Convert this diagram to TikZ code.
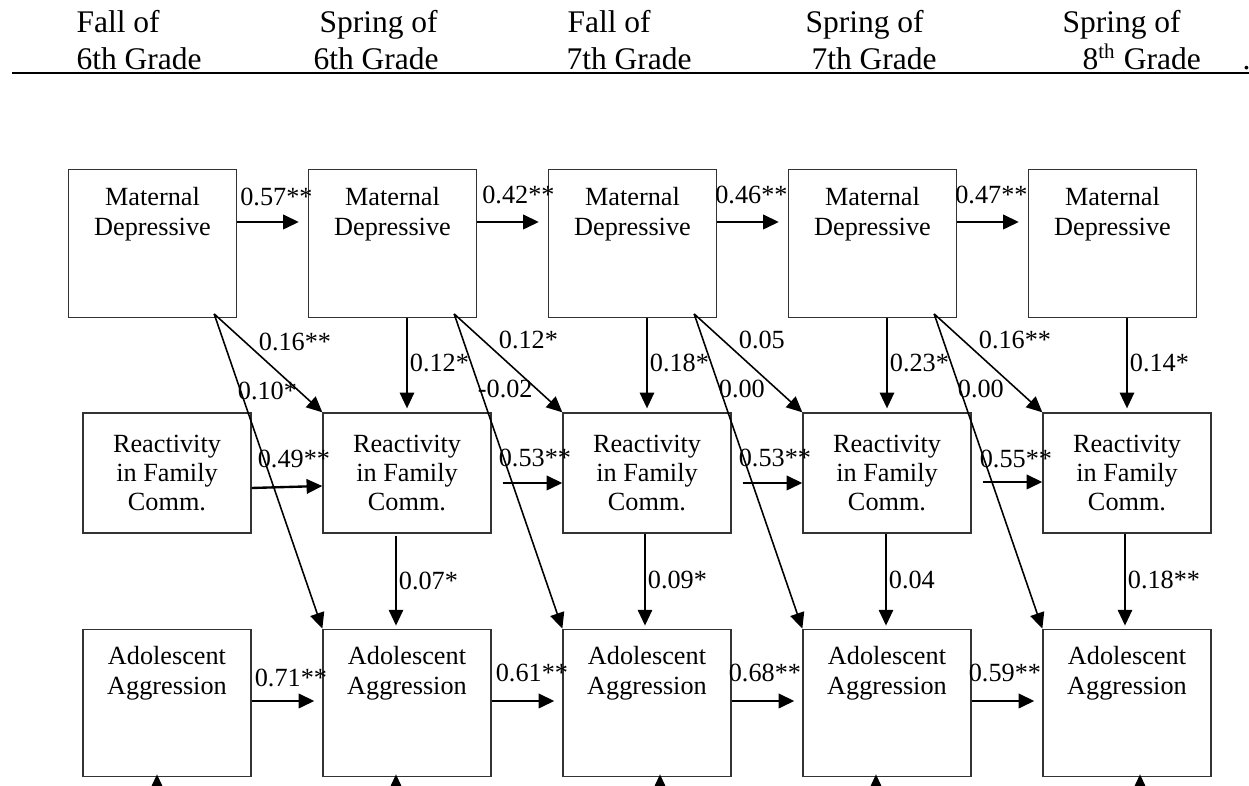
\documentclass[tikz,border=0pt]{standalone}
\usepackage{fontspec}
\setmainfont{Liberation Serif}
\usetikzlibrary{arrows.meta,calc}
\tikzset{
  tall/.style={draw=black!80,line width=0.5pt,minimum width=64pt,minimum height=56.2pt,inner sep=0pt,
    label={[toptext]north:#1}},
  toptext/.style={anchor=north,align=center,inner sep=0pt,yshift=-6.6pt,font=\fontsize{10}{11.4}\selectfont},
  mid/.style={draw=black!80,line width=0.5pt,minimum width=64pt,minimum height=45.7pt,inner sep=0pt,
    align=center,font=\fontsize{10}{11.2}\selectfont},
  coef/.style={anchor=west,inner sep=0pt,font=\fontsize{10}{12}\selectfont},
  effect/.style={line width=0.6pt,-{Triangle[length=6pt,width=5.5pt]}},
  hpath/.style={effect,line width=0.9pt},
  grade/.style={anchor=base west,inner sep=0pt,font=\fontsize{12}{14}\selectfont}
}
\begin{document}
\begin{tikzpicture}[x=0.381pt,y=-0.381pt]
\useasboundingbox (0,0) rectangle (1249,786);
\node[grade] (h1) at (76,33) {Fall of};
\node[grade] (h2) at (76,70) {6th Grade};
\node[grade] (h3) at (319,33) {Spring of};
\node[grade] (h4) at (313,70) {6th Grade};
\node[grade] (h5) at (567,33) {Fall of};
\node[grade] (h6) at (566,70) {7th Grade};
\node[grade] (h7) at (805,33) {Spring of};
\node[grade] (h8) at (811,70) {7th Grade};
\node[grade] (h9) at (1062,33) {Spring of};
\node[grade] (h10) at (1082,70) {8\textsuperscript{th} Grade};
\node[grade] (h11) at (1242,70) {.};
\draw[line width=0.8pt] (12,73) -- (1249,73);
\node[tall={Maternal\\Depressive}] (md1) at (152.5,243.5) {};
\node[tall={Maternal\\Depressive}] (md2) at (392.5,243.5) {};
\node[tall={Maternal\\Depressive}] (md3) at (632.5,243.5) {};
\node[tall={Maternal\\Depressive}] (md4) at (872.5,243.5) {};
\node[tall={Maternal\\Depressive}] (md5) at (1112.5,243.5) {};
\node[mid] (rf1) at (167,473) {Reactivity\\in Family\\Comm.};
\node[mid] (rf2) at (407,473) {Reactivity\\in Family\\Comm.};
\node[mid] (rf3) at (647,473) {Reactivity\\in Family\\Comm.};
\node[mid] (rf4) at (887,473) {Reactivity\\in Family\\Comm.};
\node[mid] (rf5) at (1127,473) {Reactivity\\in Family\\Comm.};
\node[tall={Adolescent\\Aggression}] (aa1) at (167,703) {};
\node[tall={Adolescent\\Aggression}] (aa2) at (407,703) {};
\node[tall={Adolescent\\Aggression}] (aa3) at (647,703) {};
\node[tall={Adolescent\\Aggression}] (aa4) at (887,703) {};
\node[tall={Adolescent\\Aggression}] (aa5) at (1127,703) {};
\draw[hpath] ($(md1.east)+(0,-21.5)$) -- ($(md2.west)+(-9,-21.5)$) node[coef,pos=0,shift={(2,-25.5)}] {0.57**};
\draw[hpath] ($(md2.east)+(0,-21.5)$) -- ($(md3.west)+(-9,-21.5)$) node[coef,pos=0,shift={(4,-27)}] {0.42**};
\draw[hpath] ($(md3.east)+(0,-21.5)$) -- ($(md4.west)+(-9,-21.5)$) node[coef,pos=0,shift={(-3,-27)}] {0.46**};
\draw[hpath] ($(md4.east)+(0,-21.5)$) -- ($(md5.west)+(-9,-21.5)$) node[coef,pos=0,shift={(-3,-27)}] {0.47**};
\draw[hpath] ($(rf1.east)+(0,15)$) -- ($(rf2.west)+(0,13)$) node[coef,pos=0,shift={(5,-29)}] {0.49**};
\draw[hpath] ($(rf2.east)+(11,10)$) -- ($(rf3.west)+(0,10)$) node[coef,pos=0,shift={(-5,-25)}] {0.53**};
\draw[hpath] ($(rf3.east)+(11,10)$) -- ($(rf4.west)+(0,10)$) node[coef,pos=0,shift={(-5,-25)}] {0.53**};
\draw[hpath] ($(rf4.east)+(11,9)$) -- ($(rf5.west)+(0,9)$) node[coef,pos=0,shift={(-4,-23)}] {0.55**};
\draw[hpath] ($(aa1.east)+(0,-2)$) -- ($(aa2.west)+(-8,-2)$) node[coef,pos=0,shift={(2,-23)}] {0.71**};
\draw[hpath] ($(aa2.east)+(0,-2)$) -- ($(aa3.west)+(-8,-2)$) node[coef,pos=0,shift={(3,-28)}] {0.61**};
\draw[hpath] ($(aa3.east)+(0,-2)$) -- ($(aa4.west)+(-8,-2)$) node[coef,pos=0,shift={(-4,-28)}] {0.68**};
\draw[hpath] ($(aa4.east)+(0,-2)$) -- ($(aa5.west)+(-8,-2)$) node[coef,pos=0,shift={(-4,-28)}] {0.59**};
\draw[effect] (md2.south -| rf2.north) -- ($(rf2.north)+(0,-4)$) node[coef,midway,xshift=0.8pt] {0.12*};
\draw[effect] (md3.south -| rf3.north) -- ($(rf3.north)+(0,-4)$) node[coef,midway,xshift=0.8pt] {0.18*};
\draw[effect] (md4.south -| rf4.north) -- ($(rf4.north)+(0,-4)$) node[coef,midway,xshift=0.8pt] {0.23*};
\draw[effect] (md5.south -| rf5.north) -- ($(rf5.north)+(0,-4)$) node[coef,midway,xshift=0.8pt] {0.14*};
\draw[effect] ($(rf2.south)+(-11,2)$) -- ($(aa2.north)+(-11,-3)$) node[coef,midway,xshift=0.8pt] {0.07*};
\draw[effect] ($(rf3.south)+(-2,0)$) -- ($(aa3.north)+(-2,-3)$) node[coef,midway,xshift=0.8pt] {0.09*};
\draw[effect] ($(rf4.south)+(-1,0)$) -- ($(aa4.north)+(-1,-3)$) node[coef,midway,xshift=0.8pt] {0.04};
\draw[effect] ($(rf5.south)+(-2,0)$) -- ($(aa5.north)+(-2,-3)$) node[coef,midway,xshift=0.8pt] {0.18**};
\draw[effect] ($(md1.south east)+(-23,-4)$) -- (rf2.north west) node[coef,pos=0,shift={(44,28)}] {0.16**};
\draw[effect] ($(md1.south east)+(-23,-4)$) -- (aa2.north west) node[coef,pos=0,shift={(23,77)}] {0.10*};
\draw[effect] ($(md2.south east)+(-23,-4)$) -- (rf3.north west) node[coef,pos=0,shift={(44,26)}] {0.12*};
\draw[effect] ($(md2.south east)+(-23,-4)$) -- (aa3.north west) node[coef,pos=0,shift={(23,75)}] {-0.02};
\draw[effect] ($(md3.south east)+(-23,-4)$) -- (rf4.north west) node[coef,pos=0,shift={(44,26)}] {0.05};
\draw[effect] ($(md3.south east)+(-23,-4)$) -- (aa4.north west) node[coef,pos=0,shift={(24,75)}] {0.00};
\draw[effect] ($(md4.south east)+(-23,-4)$) -- (rf5.north west) node[coef,pos=0,shift={(44,26)}] {0.16**};
\draw[effect] ($(md4.south east)+(-23,-4)$) -- (aa5.north west) node[coef,pos=0,shift={(23,75)}] {0.00};
\coordinate (e1) at ($(aa1.south)+(-10,30)$);
\coordinate (e2) at ($(aa2.south)+(-11,30)$);
\coordinate (e3) at ($(aa3.south)+(13,30)$);
\coordinate (e4) at ($(aa4.south)+(-11,30)$);
\coordinate (e5) at ($(aa5.south)+(13,30)$);
\draw[effect] (e1) -- ($(e1 |- aa1.south)+(0,-3)$);
\draw[effect] (e2) -- ($(e2 |- aa2.south)+(0,-3)$);
\draw[effect] (e3) -- ($(e3 |- aa3.south)+(0,-3)$);
\draw[effect] (e4) -- ($(e4 |- aa4.south)+(0,-3)$);
\draw[effect] (e5) -- ($(e5 |- aa5.south)+(0,-3)$);
\end{tikzpicture}
\end{document}
